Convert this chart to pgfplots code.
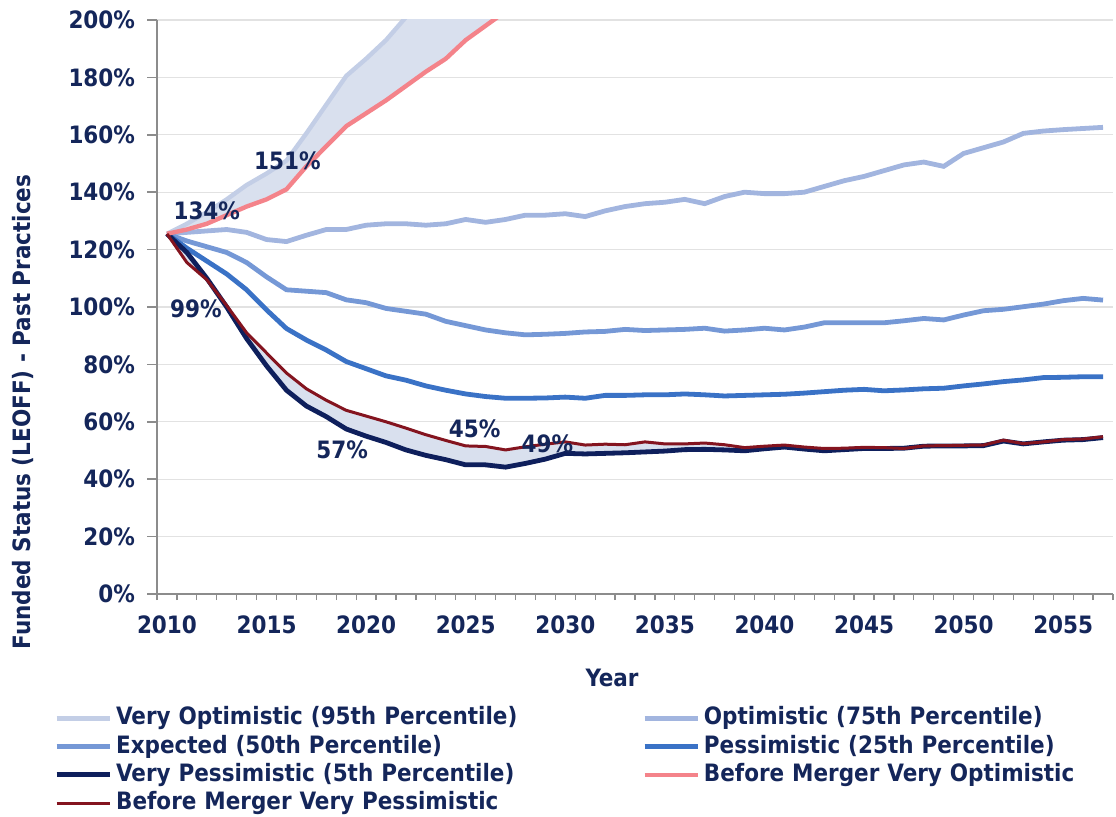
\documentclass[border=0pt]{standalone}
\usepackage{fontspec}
\setmainfont{DejaVu Sans Condensed}
\usepackage{pgfplots}
\usepackage{pgfplotstable}
\pgfplotsset{compat=1.18}
\usepgfplotslibrary{fillbetween}

\definecolor{navytext}{HTML}{14265A}
\definecolor{axisgray}{HTML}{8C8C8C}
\definecolor{gridgray}{HTML}{E2E2E2}
\definecolor{cvopt}{HTML}{C3CEE6}
\definecolor{copt}{HTML}{A2B5DF}
\definecolor{cexp}{HTML}{7598D6}
\definecolor{cpess}{HTML}{3A72C6}
\definecolor{cvpess}{HTML}{0E1F5C}
\definecolor{cbmopt}{HTML}{F4838A}
\definecolor{cbmpess}{HTML}{84141F}
\definecolor{cfill}{HTML}{D9E0EE}

% upside trajectories (leave the axis top at 200%)
\pgfplotstableread{
year vopt  bmopt
2010 125.5 125.5
2011 129.0 127.0
2012 133.0 129.0
2013 137.5 132.0
2014 142.5 135.0
2015 146.5 137.5
2016 151.0 141.0
2017 160.5 149.0
2018 170.5 156.0
2019 180.5 163.0
2020 186.5 167.5
2021 193.0 172.0
2022 201.0 177.0
2023 209.0 182.0
2024 217.0 186.5
2025 225.0 193.0
2026 233.0 198.0
2027 241.0 203.0
2028 249.0 208.0
}\upside

\pgfplotstableread{
year opt   exp   pess  vpess bmpess
2010 125.5 125.5 125.5 125.5 125.5
2011 126.0 123.0 120.5 119.0 115.5
2012 126.5 121.0 116.0 110.0 109.5
2013 127.0 119.0 111.5 100.0 100.5
2014 126.0 115.5 106.0  89.0  91.0
2015 123.5 110.5  99.0  79.5  84.0
2016 122.8 106.0  92.5  71.0  77.0
2017 125.0 105.5  88.5  65.5  71.5
2018 127.0 105.0  85.0  61.8  67.5
2019 127.0 102.5  81.0  57.5  64.0
2020 128.5 101.5  78.5  55.0  62.0
2021 129.0  99.5  76.0  52.8  60.0
2022 129.0  98.5  74.5  50.2  57.8
2023 128.5  97.5  72.5  48.3  55.5
2024 129.0  95.0  71.0  46.8  53.5
2025 130.5  93.5  69.7  45.0  51.6
2026 129.5  92.0  68.8  45.0  51.4
2027 130.5  91.0  68.2  44.2  50.2
2028 132.0  90.3  68.2  45.5  51.3
2029 132.0  90.5  68.3  47.0  52.2
2030 132.5  90.8  68.6  49.0  53.0
2031 131.5  91.3  68.2  48.8  51.9
2032 133.5  91.5  69.2  49.0  52.2
2033 135.0  92.2  69.2  49.2  52.0
2034 136.0  91.8  69.4  49.5  53.0
2035 136.5  92.0  69.4  49.8  52.3
2036 137.5  92.2  69.7  50.3  52.3
2037 136.0  92.6  69.4  50.4  52.6
2038 138.5  91.6  69.0  50.2  52.0
2039 140.0  92.0  69.2  49.9  51.0
2040 139.5  92.6  69.4  50.6  51.5
2041 139.5  92.0  69.6  51.2  51.9
2042 140.0  93.0  70.0  50.5  51.2
2043 142.0  94.5  70.5  49.9  50.7
2044 144.0  94.5  71.0  50.3  50.8
2045 145.5  94.5  71.3  50.7  51.1
2046 147.5  94.5  70.8  50.7  51.0
2047 149.5  95.2  71.1  50.8  50.7
2048 150.5  96.0  71.5  51.5  51.6
2049 149.0  95.5  71.7  51.6  51.7
2050 153.5  97.2  72.5  51.6  51.8
2051 155.5  98.7  73.2  51.7  51.9
2052 157.5  99.2  74.0  53.3  53.6
2053 160.5 100.1  74.6  52.3  52.4
2054 161.3 101.0  75.4  53.0  53.0
2055 161.8 102.2  75.5  53.6  53.8
2056 162.2 103.0  75.7  53.8  54.0
2057 162.6 102.4  75.7  54.5  54.8
}\main

\begin{document}
\begin{tikzpicture}[font=\bfseries\fontsize{12}{14}\selectfont]
\begin{axis}[
    set layers,
    scale only axis,
    width=478bp, height=287bp,
    xmin=2009.5, xmax=2057.5,
    ymin=0, ymax=200,
    axis x line*=bottom, axis y line*=left,
    axis line style={draw=axisgray, line width=0.8bp},
    tick align=outside,
    xtick={2010,2015,...,2055},
    xticklabels={2010,2015,2020,2025,2030,2035,2040,2045,2050,2055},
    minor xtick={2009.5,2010.5,...,2057.5},
    major x tick style={draw=none},
    minor x tick style={draw=axisgray, line width=0.6bp},
    minor tick length=3bp,
    ytick={0,20,...,200},
    yticklabels={0\%,20\%,40\%,60\%,80\%,100\%,120\%,140\%,160\%,180\%,200\%},
    y tick style={draw=axisgray, line width=0.8bp},
    major tick length=5bp,
    ymajorgrids,
    grid style={draw=gridgray, line width=0.6bp},
    tick label style={text=navytext, font=\bfseries\fontsize{12}{14}\selectfont},
    xticklabel style={yshift=-2.5bp},
    yticklabel style={xshift=-2.5bp},
    xlabel={Year},
    ylabel={Funded Status (LEOFF) - Past Practices},
    label style={text=navytext, font=\bfseries\fontsize{12}{14}\selectfont},
    xlabel style={at={(axis description cs:0.476,-0.146)}, anchor=center},
    ylabel style={at={(axis description cs:-0.140,0.317)}, anchor=center},
    legend columns=2,
    legend cell align=left,
    legend style={at={(axis description cs:-0.1078,-0.1916)}, anchor=north west,
        draw=none, fill=none, inner sep=0pt, row sep=0pt, column sep=0pt,
        font=\bfseries\fontsize{12}{14}\selectfont, text=navytext,
        nodes={inner xsep=2bp, inner ysep=0.8bp, text width=261bp,
               text height=9.5bp, text depth=3bp, align=left}},
    legend image code/.code={\draw[#1] (0bp,0bp) -- (26.5bp,0bp);},
]
\addplot[name path=vo, draw=cvopt, line width=2.2bp] table[x=year, y=vopt] {\upside};
\addlegendentry{Very Optimistic (95th Percentile)}
\addplot[draw=copt, line width=2.4bp] table[x=year, y=opt] {\main};
\addlegendentry{Optimistic (75th Percentile)}
\addplot[draw=cexp, line width=2.4bp] table[x=year, y=exp] {\main};
\addlegendentry{Expected (50th Percentile)}
\addplot[draw=cpess, line width=2.4bp] table[x=year, y=pess] {\main};
\addlegendentry{Pessimistic (25th Percentile)}
\addplot[name path=vp, draw=cvpess, line width=2.4bp] table[x=year, y=vpess] {\main};
\addlegendentry{Very Pessimistic (5th Percentile)}
\addplot[name path=bo, draw=cbmopt, line width=2.2bp] table[x=year, y=bmopt] {\upside};
\addlegendentry{Before Merger Very Optimistic}
\addplot[name path=bp, draw=cbmpess, line width=1.5bp] table[x=year, y=bmpess] {\main};
\addlegendentry{Before Merger Very Pessimistic}

\addplot[fill=cfill, draw=none, forget plot] fill between[of=vo and bo];
\addplot[fill=cfill, draw=none, forget plot] fill between[of=vp and bp];

\node[text=navytext] at (axis cs:2012.0,133.4) {134\%};
\node[text=navytext] at (axis cs:2016.05,150.9) {151\%};
\node[text=navytext] at (axis cs:2011.45,99.3) {99\%};
\node[text=navytext] at (axis cs:2018.8,50.2) {57\%};
\node[text=navytext] at (axis cs:2025.45,57.5) {45\%};
\node[text=navytext] at (axis cs:2029.1,52.3) {49\%};
\end{axis}
\pgfresetboundingbox
\path (-78.5bp,-111.5bp) rectangle (479.5bp,297bp);
\end{tikzpicture}
\end{document}
